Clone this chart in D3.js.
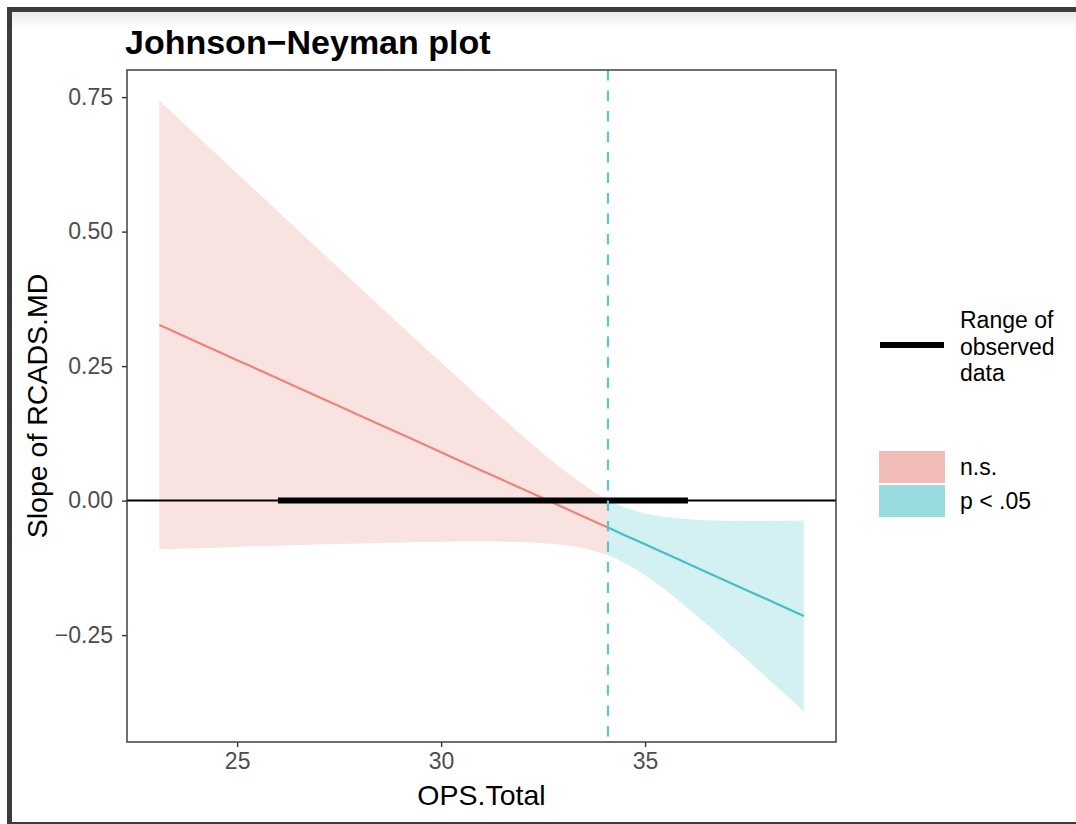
<!DOCTYPE html>
<html>
<head>
<meta charset="utf-8">
<script src="https://cdn.jsdelivr.net/npm/d3@7"></script>
<style>
  html, body { margin: 0; padding: 0; background: #ffffff; }
  svg { display: block; }
  text { font-family: "Liberation Sans", Arial, Helvetica, sans-serif; }
</style>
</head>
<body>
<svg id="chart" width="1076" height="824"></svg>
<script>
// ---------------- data ----------------
const xTicks = [25, 30, 35];
const yTicks = [-0.25, 0, 0.25, 0.5, 0.75];
const yTickLabels = ["\u22120.25", "0.00", "0.25", "0.50", "0.75"];
const jnBoundary = 34.09;
const observedRange = [26, 36.05];

// non-significant region (n.s.)
const nsX     = [23.09, 24, 25, 26, 27, 28, 29, 30, 31, 32, 33, 33.5, 34.09];
const nsSlope = [0.3265, 0.2953, 0.2611, 0.2269, 0.1926, 0.1584, 0.1241, 0.0899, 0.0557, 0.0214, -0.0128, -0.0299, -0.0501];
const nsUpper = [0.7436, 0.6790, 0.6082, 0.5375, 0.4668, 0.3964, 0.3261, 0.2565, 0.1876, 0.1202, 0.0570, 0.0288, 0.0000];
const nsLower = [-0.0906, -0.0884, -0.0860, -0.0837, -0.0816, -0.0796, -0.0779, -0.0767, -0.0762, -0.0774, -0.0826, -0.0887, -0.1016];

// significant region (p < .05)
const sigX     = [34.09, 34.5, 35, 35.5, 36, 37, 38, 38.89];
const sigSlope = [-0.0501, -0.0642, -0.0812, -0.0984, -0.1155, -0.1497, -0.1840, -0.2144];
const sigUpper = [0.0000, -0.0126, -0.0239, -0.0306, -0.0343, -0.0373, -0.0377, -0.0369];
const sigLower = [-0.1016, -0.1158, -0.1386, -0.1662, -0.1967, -0.2621, -0.3303, -0.3919];

const legendRangeLabel = ["Range of", "observed", "data"];
const legendFillLabels = ["n.s.", "p < .05"];

// ---------------- layout ----------------
const svg = d3.select("#chart");
const panel = { left: 127, right: 836, top: 70, bottom: 742 };

// screenshot frame
const defs = svg.append("defs");
const grad = defs.append("linearGradient").attr("id", "shadow").attr("x1", 0).attr("x2", 0).attr("y1", 0).attr("y2", 1);
grad.append("stop").attr("offset", "0%").attr("stop-color", "#e9e9e9");
grad.append("stop").attr("offset", "100%").attr("stop-color", "#ffffff");
svg.append("rect").attr("x", 12).attr("y", 12).attr("width", 1064).attr("height", 16).attr("fill", "url(#shadow)");
svg.append("rect").attr("x", 7).attr("y", 7).attr("width", 1069).attr("height", 5).attr("fill", "#3b3c3e");
svg.append("rect").attr("x", 7).attr("y", 7).attr("width", 5).attr("height", 817).attr("fill", "#3b3c3e");
svg.append("rect").attr("x", 7).attr("y", 822).attr("width", 1069).attr("height", 2).attr("fill", "#3b3c3e");

// scales
const allX = nsX.concat(sigX);
const allY = nsUpper.concat(nsLower, sigUpper, sigLower);
const xMin = d3.min(allX), xMax = d3.max(allX);
const yMin = d3.min(allY), yMax = d3.max(allY);
const xPad = (xMax - xMin) * 0.05, yPad = (yMax - yMin) * 0.05;
const x = d3.scaleLinear().domain([xMin - xPad, xMax + xPad]).range([panel.left, panel.right]);
const y = d3.scaleLinear().domain([yMin - yPad, yMax + yPad]).range([panel.bottom, panel.top]);

const g = svg.append("g");
const clip = defs.append("clipPath").attr("id", "pclip");
clip.append("rect").attr("x", panel.left).attr("y", panel.top)
  .attr("width", panel.right - panel.left).attr("height", panel.bottom - panel.top);
const pg = g.append("g").attr("clip-path", "url(#pclip)");

const area = d3.area().x(d => x(d[0])).y0(d => y(d[2])).y1(d => y(d[1])).curve(d3.curveMonotoneX);
const line = d3.line().x(d => x(d[0])).y(d => y(d[1])).curve(d3.curveMonotoneX);

const nsBand = nsX.map((v, i) => [v, nsUpper[i], nsLower[i]]);
const sigBand = sigX.map((v, i) => [v, sigUpper[i], sigLower[i]]);
pg.append("path").attr("d", area(nsBand)).attr("fill", "#f8e3e1");
pg.append("path").attr("d", area(sigBand)).attr("fill", "#d3f0f2");

pg.append("path").attr("d", line(nsX.map((v, i) => [v, nsSlope[i]])))
  .attr("fill", "none").attr("stroke", "#ee8379").attr("stroke-width", 2.2);
pg.append("path").attr("d", line(sigX.map((v, i) => [v, sigSlope[i]])))
  .attr("fill", "none").attr("stroke", "#45bfc3").attr("stroke-width", 2.2);

// zero line
pg.append("line").attr("x1", panel.left).attr("x2", panel.right)
  .attr("y1", y(0)).attr("y2", y(0)).attr("stroke", "#000").attr("stroke-width", 2);
// observed range
pg.append("line").attr("x1", x(observedRange[0])).attr("x2", x(observedRange[1]))
  .attr("y1", y(0)).attr("y2", y(0)).attr("stroke", "#000").attr("stroke-width", 6);
// JN boundary
pg.append("line").attr("x1", x(jnBoundary)).attr("x2", x(jnBoundary))
  .attr("y1", panel.top).attr("y2", panel.bottom)
  .attr("stroke", "#5cc6ca").attr("stroke-width", 2.2).attr("stroke-dasharray", "10.5,10");

// panel border
g.append("rect").attr("x", panel.left).attr("y", panel.top)
  .attr("width", panel.right - panel.left).attr("height", panel.bottom - panel.top)
  .attr("fill", "none").attr("stroke", "#333333").attr("stroke-width", 1.4);

// axes
const xAxis = d3.axisBottom(x).tickValues(xTicks).tickSize(5).tickPadding(6).tickFormat(d3.format("d"));
const yAxis = d3.axisLeft(y).tickValues(yTicks).tickSize(5).tickPadding(9)
  .tickFormat((d, i) => yTickLabels[i]);
const xa = svg.append("g").attr("transform", `translate(0,${panel.bottom})`).call(xAxis);
const ya = svg.append("g").attr("transform", `translate(${panel.left},0)`).call(yAxis);
[xa, ya].forEach(a => {
  a.select(".domain").remove();
  a.selectAll(".tick line").attr("stroke", "#333333").attr("stroke-width", 1.4);
  a.selectAll(".tick text").attr("fill", "#4d4d4d").attr("font-size", 23)
    .attr("font-family", "'Liberation Sans', Arial, sans-serif");
});

// axis titles
svg.append("text").attr("x", (panel.left + panel.right) / 2).attr("y", 805)
  .attr("text-anchor", "middle").attr("font-size", 28.5).attr("fill", "#000").text("OPS.Total");
svg.append("text").attr("transform", `translate(47,${(panel.top + panel.bottom) / 2}) rotate(-90)`)
  .attr("text-anchor", "middle").attr("font-size", 28.5).attr("fill", "#000").text("Slope of RCADS.MD");

// title
svg.append("text").attr("x", 125).attr("y", 54).attr("font-size", 34).attr("font-weight", "bold")
  .attr("fill", "#000").text("Johnson\u2212Neyman plot");

// legend
const lg = svg.append("g");
lg.append("line").attr("x1", 880).attr("x2", 944).attr("y1", 345).attr("y2", 345)
  .attr("stroke", "#000").attr("stroke-width", 6);
legendRangeLabel.forEach((t, i) => {
  lg.append("text").attr("x", 960).attr("y", 328 + i * 26.5).attr("font-size", 23).attr("fill", "#000").text(t);
});
const swatchColors = ["#f2bcb8", "#99dce0"];
legendFillLabels.forEach((t, i) => {
  lg.append("rect").attr("x", 879).attr("y", 451 + i * 34).attr("width", 66).attr("height", 32)
    .attr("fill", swatchColors[i]);
  lg.append("text").attr("x", 960).attr("y", 475 + i * 34).attr("font-size", 23).attr("fill", "#000").text(t);
});
</script>
</body>
</html>
